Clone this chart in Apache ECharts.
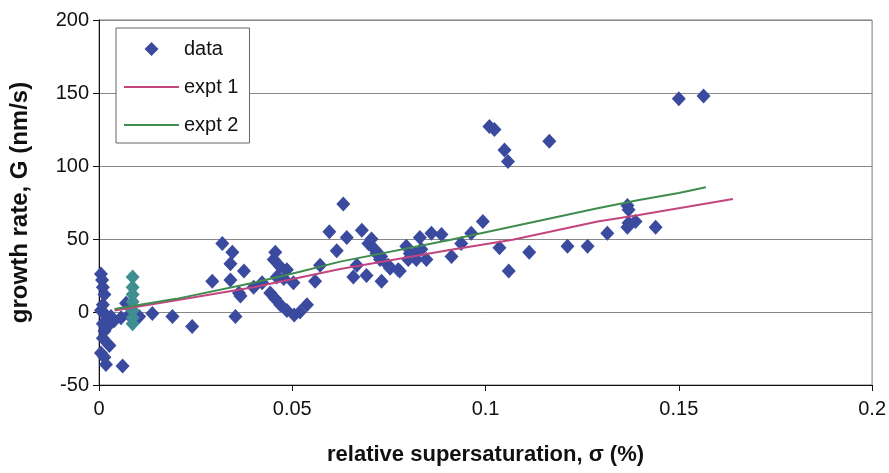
<!DOCTYPE html>
<html>
<head>
<meta charset="utf-8">
<script src="https://cdn.jsdelivr.net/npm/echarts@6/dist/echarts.min.js"></script>
<style>
html,body{margin:0;padding:0;background:#fff;}
#chart{width:889px;height:473px;}
</style>
</head>
<body>
<div id="chart"></div>
<script>
// relative supersaturation sigma (%) and growth rate G (nm/s)
const dataSigma = [
  0.0005,0.001,0.0014,0.001,0.0005,0.0014,0.001,0.0014,0.001,0.0027,0.0014,0.0018,0.0005,0.002,0.0031,0.0039,0.0057,0.0061,0.007,0.0078,0.0104,0.0022,0.0008,
  0.0138,0.019,0.0241,0.0293,0.0319,0.0345,0.034,0.0375,0.034,0.0362,0.0366,0.040,0.0353,
  0.0422,0.0443,0.0456,0.0469,0.0486,0.052,0.0538,0.0505,
  0.0456,0.0452,0.0469,0.0486,0.046,0.0478,0.0503,0.0572,0.0559,
  0.0632,0.0596,0.068,0.0641,0.0615,0.0697,0.0705,0.0718,0.0727,0.0748,0.0753,0.0778,0.0667,0.0658,0.0692,0.0731,0.0774,0.0713,0.073,
  0.0795,0.0804,0.0821,0.0817,0.083,0.086,0.0886,0.0847,0.0834,0.0912,0.0937,0.0963,0.0993,0.1036,0.106,0.1113,0.1212,0.1264,0.1315,0.1367,0.137,0.1367,0.1388,0.137,0.144,0.08,
  0.101,0.1023,0.1049,0.1058,0.1165,0.15,0.1564
];
const dataGrowth = [
  26,17,12,5,1,-1,-8,-13,-18,-23,-31,-36,-28,-5,-3,-6,-4,-37,6,-2,-3,-10,22,
  -1,-3,-10,21,47,41,33,28,22,13,11,17,-3,
  20,13,9,5,1,0,5,-2,
  41,36,31,29,24,23,20,32,21,
  74,55,56,51,42,47,50,40,36,32,30,28,32,24,25,21,29,43,38,
  45,40,36,40,51,54,53,36,43,38,47,54,62,44,28,41,45,45,54,73,70,58,62,61,58,36,
  127,125,111,103,117,146,148
];
// stacked points at sigma ~ 0.009 (teal-tinted in the original)
const stackSigma = [0.0087,0.0087,0.0087,0.0087,0.0087,0.0087,0.0087];
const stackGrowth = [24,17,12,7,1,-4,-8];

const expt1Sigma = [0.004,0.02,0.04,0.0624,0.0907,0.107,0.129,0.1397,0.164];
const expt1Growth = [1,8,17,29.5,42.5,49.5,62,66.4,77.4];
const expt2Sigma = [0.004,0.02,0.04,0.052,0.0624,0.0907,0.129,0.1397,0.150,0.157];
const expt2Growth = [2,9,20,27.6,34.5,49.3,71,76.7,81.5,85.4];

const xTickLabels = ['0','0.05','0.1','0.15','0.2'];
const yTickLabels = ['-50','0','50','100','150','200'];

const zip = (a,b) => a.map((v,i)=>[v,b[i]]);

// diamond centred in a 55x14 legend cell (tiny corner specks fix the bounding box)
const legendDiamond = 'path://M0,0 L0.01,0 L0,0.01 Z M55,14 L54.99,14 L55,13.99 Z M20.5,7 L27.5,0 L34.5,7 L27.5,14 Z';

const chart = echarts.init(document.getElementById('chart'));
const FONT = 'Liberation Sans, Arial, sans-serif';
chart.setOption({
  animation:false,
  backgroundColor:'#fff',
  grid:{left:98,right:15,top:20,bottom:88,show:true,borderColor:'#777',borderWidth:1},
  xAxis:{
    type:'value',min:0,max:0.2,interval:0.05,
    name:'relative supersaturation, \u03c3 (%)',nameLocation:'middle',nameGap:59,
    nameTextStyle:{fontFamily:FONT,fontWeight:'bold',fontSize:22,color:'#111'},
    axisLine:{show:true,onZero:false,lineStyle:{color:'#111',width:1}},
    axisTick:{show:true,length:6,lineStyle:{color:'#111'}},
    axisLabel:{margin:14,fontFamily:FONT,fontSize:20,color:'#111',
      formatter:(v)=>{const i=Math.round(v/0.05);return xTickLabels[i]!==undefined?xTickLabels[i]:'';}},
    splitLine:{show:false}
  },
  yAxis:{
    type:'value',min:-50,max:200,interval:50,
    name:'growth rate, G (nm/s)',nameLocation:'middle',nameGap:67,
    nameTextStyle:{fontFamily:FONT,fontWeight:'bold',fontSize:24,color:'#111'},
    axisLine:{show:true,onZero:false,lineStyle:{color:'#111',width:1}},
    axisTick:{show:true,length:6,lineStyle:{color:'#111'}},
    axisLabel:{margin:10,fontFamily:FONT,fontSize:20,color:'#111',
      formatter:(v)=>{const i=Math.round((v+50)/50);return yTickLabels[i]!==undefined?yTickLabels[i]:'';}},
    splitLine:{show:true,lineStyle:{color:'#888',width:1}}
  },
  legend:{
    orient:'vertical',left:116,top:28,
    data:[
      {name:'data',icon:legendDiamond},
      {name:'expt 1',itemStyle:{opacity:0,color:'rgba(0,0,0,0)',borderWidth:0}},
      {name:'expt 2',itemStyle:{opacity:0,color:'rgba(0,0,0,0)',borderWidth:0}}
    ],
    backgroundColor:'#fff',borderColor:'#666',borderWidth:1,
    padding:[11,11,8,7],itemGap:18,itemWidth:55,itemHeight:14,
    textStyle:{fontFamily:FONT,fontSize:20,color:'#111'},
    selectedMode:false
  },
  series:[
    {name:'data',type:'scatter',symbol:'diamond',symbolSize:[14,15],
     itemStyle:{color:'#3a4a9e',opacity:1},data:zip(dataSigma,dataGrowth),z:2},
    {name:'stack',type:'scatter',symbol:'diamond',symbolSize:[14,15],
     itemStyle:{color:'#3f8f92',opacity:1},data:zip(stackSigma,stackGrowth),z:3},
    {name:'expt 1',type:'line',symbol:'none',lineStyle:{color:'#c2457f',width:2},
     itemStyle:{color:'#c2457f'},data:zip(expt1Sigma,expt1Growth),z:4},
    {name:'expt 2',type:'line',symbol:'none',lineStyle:{color:'#3f8c4e',width:2},
     itemStyle:{color:'#3f8c4e'},data:zip(expt2Sigma,expt2Growth),z:5}
  ]
});
</script>
</body>
</html>
